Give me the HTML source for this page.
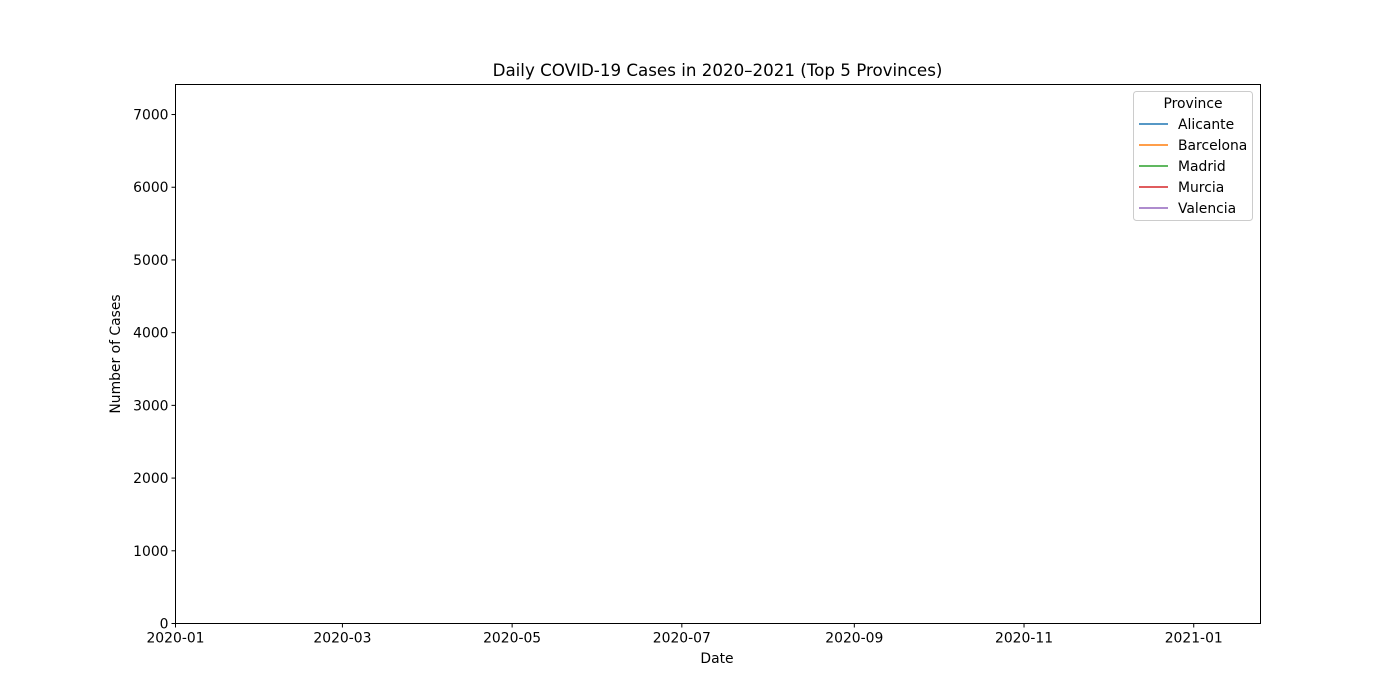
<!DOCTYPE html>
<html><head><meta charset="utf-8"><style>
body{margin:0;background:#fff}
svg{font-family:"DejaVu Sans","Liberation Sans",sans-serif;display:block}
</style></head><body>
<svg id="chart" width="1400" height="700" viewBox="0 0 1400 700">
<rect width="1400" height="700" fill="#fff"/>
<text x="717.5" y="76" font-size="16.7" text-anchor="middle">Daily COVID-19 Cases in 2020–2021 (Top 5 Provinces)</text>
<g id="ticks"></g>
<g id="series"></g>
<rect x="175.5" y="84.5" width="1085" height="539" fill="none" stroke="#000" stroke-width="1"/>
<text x="717" y="663" font-size="13.9" text-anchor="middle">Date</text>
<text transform="translate(120,354) rotate(-90)" font-size="13.9" text-anchor="middle">Number of Cases</text>
<g id="legend">
<rect x="1133.5" y="91.5" width="119" height="129" rx="3" fill="#fff" stroke="#ccc"/>
<text x="1193" y="108" font-size="13.9" text-anchor="middle">Province</text>
</g>
</svg>
<script>
const provinces = ["Alicante","Barcelona","Madrid","Murcia","Valencia"];
const colors = ["#1f77b4","#ff7f0e","#2ca02c","#d62728","#9467bd"];
const seriesDates = [[],[],[],[],[]];
const seriesValues = [[],[],[],[],[]];
const yTicks = [0,1000,2000,3000,4000,5000,6000,7000];
const xTickLabels = ["2020-01","2020-03","2020-05","2020-07","2020-09","2020-11","2021-01"];
const xTickDates = ["2020-01-01","2020-03-01","2020-05-01","2020-07-01","2020-09-01","2020-11-01","2021-01-01"];
const yMax = 7413;
const xStart = Date.UTC(2020,0,1), xEnd = Date.UTC(2021,0,25);
const L=175.5,R=1260.5,T=84.5,B=623.5;
const NS="http://www.w3.org/2000/svg";
function xS(d){return L+(new Date(d+"T00:00:00Z")-xStart)/(xEnd-xStart)*(R-L);}
function yS(v){return B-v/yMax*(B-T);}
const ticks=document.getElementById('ticks');
yTicks.forEach(v=>{
  const y=yS(v);
  const l=document.createElementNS(NS,'line');
  l.setAttribute('x1',L-4);l.setAttribute('x2',L);l.setAttribute('y1',y);l.setAttribute('y2',y);l.setAttribute('stroke','#000');
  
  
  ticks.appendChild(l);
  const t=document.createElementNS(NS,'text');
  t.setAttribute('x',L-7);t.setAttribute('y',y+5);t.setAttribute('font-size','13.9');t.setAttribute('text-anchor','end');
  t.textContent=v;
  
  
  ticks.appendChild(t);
});
xTickDates.forEach((d,i)=>{
  const x=xS(d);
  const l=document.createElementNS(NS,'line');
  l.setAttribute('x1',x);l.setAttribute('x2',x);l.setAttribute('y1',B);l.setAttribute('y2',B+4);l.setAttribute('stroke','#000');
  
  
  ticks.appendChild(l);
  const t=document.createElementNS(NS,'text');
  t.setAttribute('x',x);t.setAttribute('y',B+19);t.setAttribute('font-size','13.9');t.setAttribute('text-anchor','middle');
  t.textContent=xTickLabels[i];
  
  
  ticks.appendChild(t);
});
const sg=document.getElementById('series');
provinces.forEach((p,i)=>{
  const pts=seriesDates[i].map((d,j)=>xS(d)+','+yS(seriesValues[i][j])).join(' ');
  const pl=document.createElementNS(NS,'polyline');
  pl.setAttribute('points',pts);pl.setAttribute('fill','none');pl.setAttribute('stroke',colors[i]);pl.setAttribute('stroke-width','1.5');
  
  
  sg.appendChild(pl);
});
const lg=document.getElementById('legend');
provinces.forEach((p,i)=>{
  const y=124+i*21;
  const g=document.createElementNS(NS,'g');
  
  
  const l=document.createElementNS(NS,'line');
  l.setAttribute('x1',1139);l.setAttribute('x2',1168);l.setAttribute('y1',y);l.setAttribute('y2',y);
  l.setAttribute('stroke',colors[i]);l.setAttribute('stroke-width','1.5');
  g.appendChild(l);
  const t=document.createElementNS(NS,'text');
  t.setAttribute('x',1178);t.setAttribute('y',y+5);t.setAttribute('font-size','13.9');
  t.textContent=p;
  g.appendChild(t);
  lg.appendChild(g);
});
</script>
</body></html>
